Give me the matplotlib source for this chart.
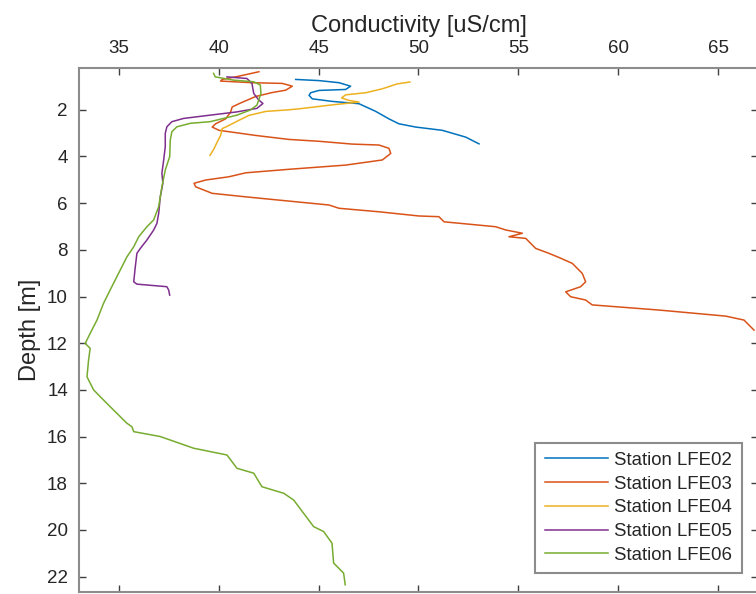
import matplotlib
matplotlib.use('Agg')
import matplotlib.pyplot as plt

plt.rcParams['font.family'] = ['Liberation Sans', 'DejaVu Sans']

# conductivity [uS/cm] and depth [m] per station
lfe02_cond = [43.85, 45.02, 46.02, 46.60, 46.35, 45.02, 44.60, 44.52, 44.68, 45.67,
              47.02, 47.86, 48.52, 49.02, 49.86, 51.19, 52.36, 53.03]
lfe02_depth = [0.70, 0.75, 0.84, 0.99, 1.13, 1.17, 1.27, 1.38, 1.53, 1.64,
               1.74, 2.07, 2.39, 2.60, 2.74, 2.88, 3.17, 3.46]

lfe03_cond = [42.01, 41.01, 40.17, 40.09, 41.68, 43.18, 43.68, 43.35, 42.68, 41.85,
              41.01, 40.67, 40.59, 40.34, 39.84, 39.67, 40.01, 41.85, 43.51, 45.02,
              46.68, 48.02, 48.52, 48.61, 48.19, 46.35, 43.51, 41.35, 40.51, 39.34,
              38.76, 38.84, 39.67, 41.35, 43.01, 45.52, 46.02, 48.02, 50.02, 51.02,
              51.28, 53.86, 54.37, 55.20, 54.53, 55.37, 55.87, 56.53, 57.04, 57.70,
              58.20, 58.37, 58.12, 57.37, 57.62, 58.37, 58.70, 62.04, 65.38, 66.30,
              66.80]
lfe03_depth = [0.37, 0.56, 0.70, 0.77, 0.84, 0.87, 0.99, 1.16, 1.26, 1.43,
               1.74, 1.88, 2.10, 2.39, 2.60, 2.74, 2.88, 3.10, 3.27, 3.35,
               3.47, 3.51, 3.65, 3.87, 4.15, 4.37, 4.55, 4.70, 4.87, 5.01,
               5.15, 5.30, 5.58, 5.73, 5.87, 6.08, 6.22, 6.37, 6.55, 6.58,
               6.80, 7.01, 7.15, 7.29, 7.44, 7.51, 7.94, 8.15, 8.33, 8.58,
               9.01, 9.37, 9.58, 9.80, 10.01, 10.15, 10.36, 10.58, 10.84, 11.01,
               11.44]

lfe04_cond = [49.57, 48.94, 48.19, 47.36, 46.35, 46.15, 46.52, 47.02, 45.68, 44.01,
              43.51, 42.35, 41.51, 41.01, 40.51, 40.17, 40.09, 39.92, 39.76, 39.56]
lfe04_depth = [0.81, 0.89, 1.10, 1.27, 1.36, 1.49, 1.60, 1.67, 1.79, 1.96,
               2.00, 2.07, 2.24, 2.45, 2.67, 2.81, 3.10, 3.38, 3.67, 3.95]

lfe05_cond = [40.41, 41.41, 41.66, 41.75, 42.00, 42.21, 41.91, 40.91, 39.57, 38.24,
              37.65, 37.40, 37.32, 37.32, 37.24, 37.15, 37.20, 37.07, 36.99, 36.90,
              36.74, 36.40, 36.07, 35.90, 35.82, 35.74, 35.90, 37.40, 37.49, 37.54]
lfe05_depth = [0.59, 0.66, 0.87, 1.30, 1.58, 1.73, 1.94, 2.09, 2.23, 2.37,
               2.51, 2.73, 3.01, 3.58, 4.15, 4.72, 5.15, 5.73, 6.44, 6.87,
               7.15, 7.58, 7.94, 8.15, 8.72, 9.37, 9.47, 9.58, 9.72, 9.94]

lfe06_cond = [39.74, 39.82, 40.74, 41.75, 42.08, 42.11, 42.00, 41.91, 41.58, 40.91,
              40.24, 39.57, 38.57, 37.90, 37.65, 37.57, 37.54, 37.32, 37.15, 36.99,
              36.74, 36.40, 35.99, 35.74, 35.40, 34.98, 34.56, 34.23, 33.90, 33.56,
              33.31, 33.56, 33.48, 33.40, 33.73, 34.06, 34.56, 35.40, 35.65, 35.74,
              37.07, 38.74, 40.41, 40.91, 41.75, 42.16, 43.25, 43.75, 44.75, 45.25,
              45.67, 45.75, 46.25, 46.33]
lfe06_depth = [0.44, 0.59, 0.73, 0.80, 0.94, 1.30, 1.58, 1.80, 2.01, 2.23,
               2.37, 2.51, 2.58, 2.73, 2.94, 3.30, 4.01, 4.58, 5.30, 6.15,
               6.72, 7.01, 7.44, 7.87, 8.30, 9.01, 9.72, 10.29, 11.01, 11.58,
               12.01, 12.22, 12.72, 13.44, 14.00, 14.29, 14.72, 15.43, 15.58, 15.79,
               16.00, 16.50, 16.79, 17.36, 17.57, 18.15, 18.43, 18.72, 19.86, 20.07,
               20.57, 21.42, 21.85, 22.35]

labels = ['Station LFE02', 'Station LFE03', 'Station LFE04', 'Station LFE05', 'Station LFE06']
colors = ['#0072BD', '#D95319', '#EDB120', '#7E2F8E', '#77AC30']

fig = plt.figure(figsize=(7.56, 5.94), dpi=100)
ax = fig.add_axes([79 / 756, 1 - 592 / 594, 679 / 756, 524 / 594])

series = [(lfe02_cond, lfe02_depth), (lfe03_cond, lfe03_depth), (lfe04_cond, lfe04_depth),
          (lfe05_cond, lfe05_depth), (lfe06_cond, lfe06_depth)]
for (c, d), lab, col in zip(series, labels, colors):
    ax.plot(c, d, color=col, lw=1.1, label=lab)

ax.set_xlim(33, 67)
ax.set_ylim(22.66, 0.21)
ax.set_xticks(range(35, 66, 5))
ax.set_yticks(range(2, 23, 2))

ax.xaxis.tick_top()
ax.xaxis.set_label_position('top')
ax.tick_params(axis='both', which='both', direction='in', length=5, width=1,
               top=True, bottom=True, left=True, right=True,
               labelsize=13.5, colors='#404040', labelcolor='#262626', pad=8)
ax.set_xlabel('Conductivity [uS/cm]', fontsize=17, color='#262626', labelpad=6)
ax.set_ylabel('Depth [m]', fontsize=17, color='#262626', labelpad=4)
for sp in ax.spines.values():
    sp.set_color('#8c8c8c')
    sp.set_linewidth(1.5)

leg = ax.legend(loc='lower right', bbox_to_anchor=(0.976, 0.036), borderaxespad=0,
                fontsize=13.4, handlelength=3.4, handletextpad=0.35, labelspacing=0.36,
                borderpad=0.5, fancybox=False, framealpha=1, edgecolor='#8c8c8c')
leg.get_frame().set_linewidth(1.5)
for t in leg.get_texts():
    t.set_color('#262626')

fig.savefig('out.png', dpi=100)
